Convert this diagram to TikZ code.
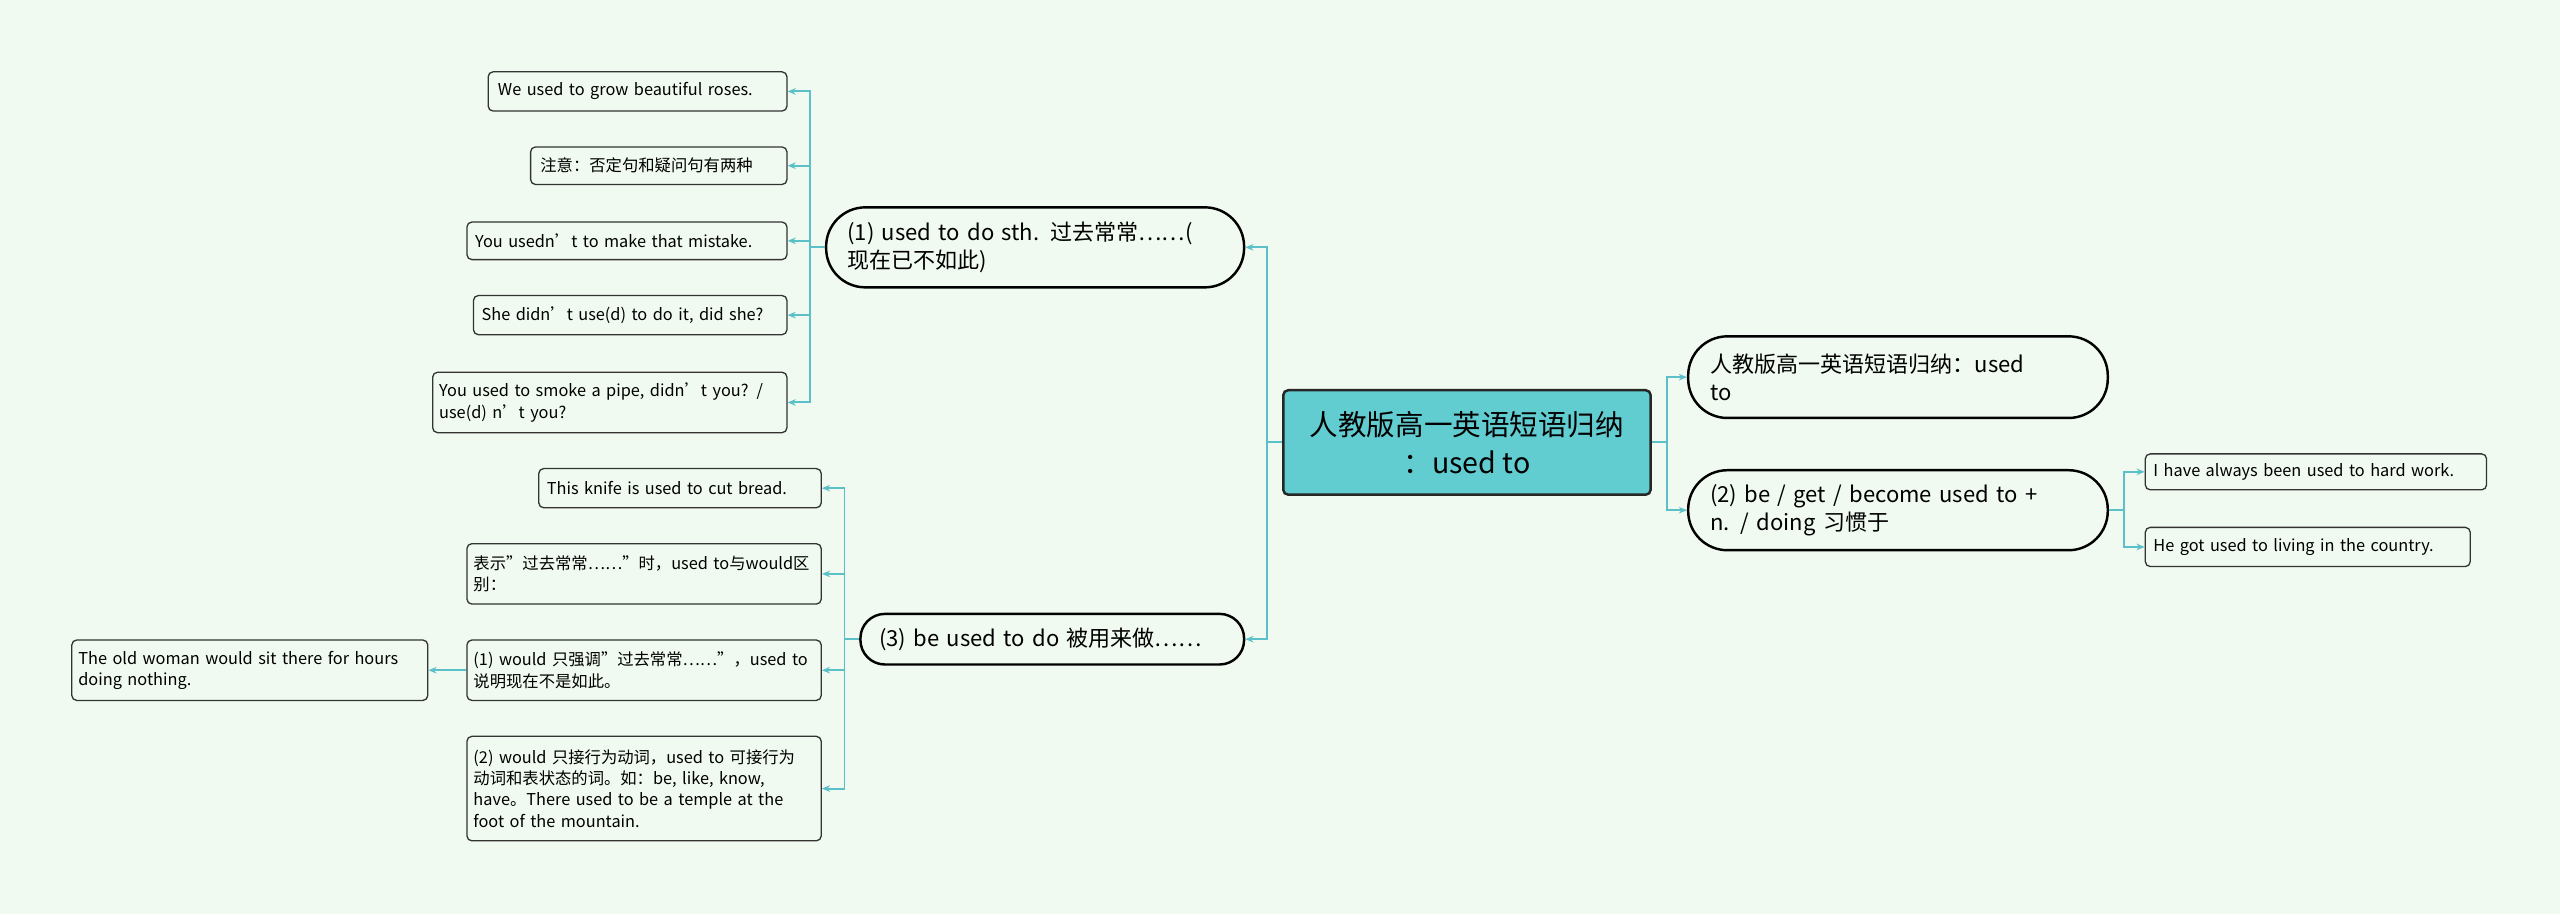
\documentclass[tikz,border=0pt]{standalone}
\usepackage{fontspec}
\setmainfont{Noto Sans CJK SC}
\usetikzlibrary{arrows.meta}
\definecolor{bgc}{HTML}{F0FAF0}
\definecolor{lnc}{HTML}{5BC0C8}
\definecolor{rootc}{HTML}{62CDD1}
\tikzset{
 leaf/.style={draw=black!80,line width=0.8pt,rounded corners=3pt,align=left,inner sep=0pt,font=\fontsize{10}{13}\selectfont},
 pill/.style={draw=black,line width=1.5pt,align=left,inner sep=0pt,font=\fontsize{13.5}{17}\selectfont},
 conn/.style={draw=lnc,line width=1.2pt,-{Stealth[length=5pt,width=4pt]}},
}
\newcommand{\bx}[7]{\node[#1,minimum width=#4pt,minimum height=#5pt,text width=#6pt] (#2) at (#3) {#7};}
\begin{document}
\begin{tikzpicture}[x=1pt,y=-1pt]
\fill[bgc] (0,0) rectangle (1568,560);
\useasboundingbox (0,0) rectangle (1568,560);
\node[draw=black!85,line width=1.5pt,fill=rootc,rounded corners=3pt,minimum width=225pt,minimum height=64pt,align=center,inner sep=0pt,font=\fontsize{17.5}{23}\selectfont] (root) at (898.5,271) {人教版高一英语短语归纳\\：used to};
\bx{pill,rounded corners=24pt}{r1}{1162.5,231}{257}{50}{230}{人教版高一英语短语归纳：used\\to}
\bx{pill,rounded corners=24pt}{r2}{1162.5,312.5}{257}{49}{230}{(2) be / get / become used to +\\n. / doing 习惯于}
\bx{leaf}{rr1}{1418.5,289}{209}{22}{199}{I have always been used to hard work.}
\bx{leaf}{rr2}{1413.5,335}{199}{24}{189}{He got used to living in the country.}
\bx{pill,rounded corners=24pt}{l1}{634,151.5}{256}{49}{230}{(1) used to do sth. 过去常常……(\\现在已不如此)}
\bx{pill,rounded corners=15pt}{l3}{644.5,391.5}{235}{31}{212}{(3) be used to do 被用来做……}
\bx{leaf}{a1}{390.5,56}{183}{24}{171}{We used to grow beautiful roses.}
\bx{leaf}{a2}{403.5,101.5}{157}{23}{145}{注意：否定句和疑问句有两种}
\bx{leaf}{a3}{384,147.5}{196}{23}{186}{You usedn’t to make that mistake.}
\bx{leaf}{a4}{386,193}{192}{24}{182}{She didn't use(d) to do it, did she?}
\bx{leaf}{a5}{373.5,246.5}{217}{37}{209}{You used to smoke a pipe, didn't you? /\\use(d) n't you?}
\bx{leaf}{b1}{416.5,299}{173}{24}{163}{This knife is used to cut bread.}
\bx{leaf}{b2}{394.5,351.5}{217}{37}{209}{表示"过去常常……"时，used to与would区\\别：}
\bx{leaf}{b3}{394.5,410.5}{217}{37}{209}{(1) would 只强调"过去常常……"，used to\\说明现在不是如此。}
\bx{leaf}{b4}{394.5,483}{217}{64}{209}{(2) would 只接行为动词，used to 可接行为\\动词和表状态的词。如：be, like, know,\\have。There used to be a temple at the\\foot of the mountain.}
\bx{leaf}{c1}{153,410.5}{218}{37}{210}{The old woman would sit there for hours\\doing nothing.}
\foreach \t in {l1,l3} \draw[conn] (root.west) -- ++(-9,0) |- (\t.east);
\foreach \t in {r1,r2} \draw[conn] (root.east) -- ++(9,0) |- (\t.west);
\foreach \t in {rr1,rr2} \draw[conn] (r2.east) -- ++(9,0) |- (\t.west);
\foreach \t in {a1,a2,a3,a4,a5} \draw[conn] (l1.west) -- ++(-9,0) |- (\t.east);
\foreach \t in {b1,b2,b3,b4} \draw[conn] (l3.west) -- ++(-9,0) |- (\t.east);
\draw[conn] (b3.west) -- (c1.east);
\end{tikzpicture}
\end{document}
